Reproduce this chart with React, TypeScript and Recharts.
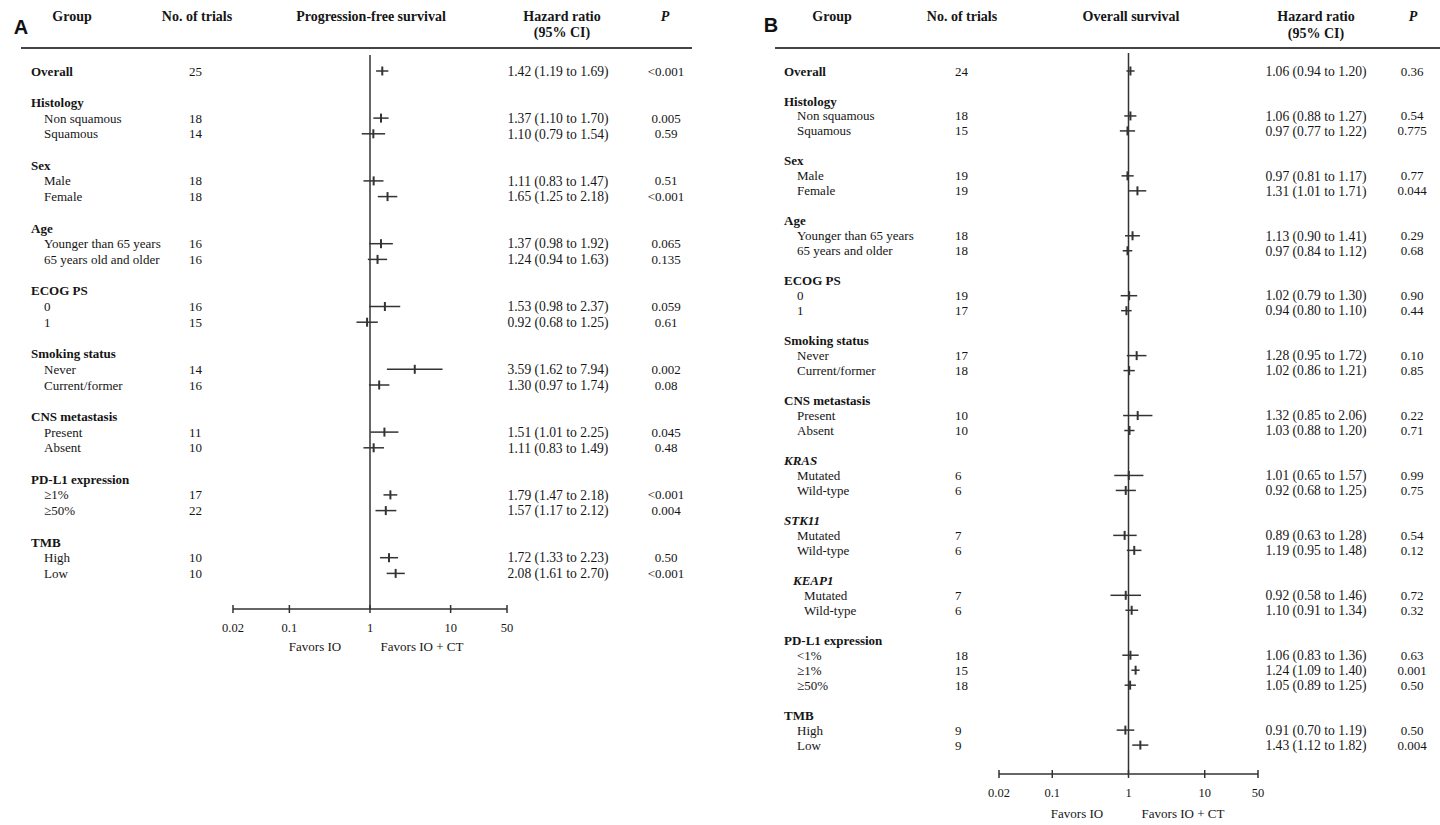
import React from 'react';
import { ScatterChart, Scatter, XAxis, YAxis, ReferenceLine, ErrorBar } from 'recharts';

// ---------- Panel A: Progression-free survival ----------
const pfsSubgroups = ['Overall', 'Non squamous', 'Squamous', 'Male', 'Female', 'Younger than 65 years', '65 years old and older', '0', '1', 'Never', 'Current/former', 'Present', 'Absent', '≥1%', '≥50%', 'High', 'Low'];
const pfsCategories = ['', 'Histology', 'Histology', 'Sex', 'Sex', 'Age', 'Age', 'ECOG PS', 'ECOG PS', 'Smoking status', 'Smoking status', 'CNS metastasis', 'CNS metastasis', 'PD-L1 expression', 'PD-L1 expression', 'TMB', 'TMB'];
const pfsTrials = [25, 18, 14, 18, 18, 16, 16, 16, 15, 14, 16, 11, 10, 17, 22, 10, 10];
const pfsHR = [1.42, 1.37, 1.10, 1.11, 1.65, 1.37, 1.24, 1.53, 0.92, 3.59, 1.30, 1.51, 1.11, 1.79, 1.57, 1.72, 2.08];
const pfsLower = [1.19, 1.10, 0.79, 0.83, 1.25, 0.98, 0.94, 0.98, 0.68, 1.62, 0.97, 1.01, 0.83, 1.47, 1.17, 1.33, 1.61];
const pfsUpper = [1.69, 1.70, 1.54, 1.47, 2.18, 1.92, 1.63, 2.37, 1.25, 7.94, 1.74, 2.25, 1.49, 2.18, 2.12, 2.23, 2.70];
const pfsP = ['<0.001', '0.005', '0.59', '0.51', '<0.001', '0.065', '0.135', '0.059', '0.61', '0.002', '0.08', '0.045', '0.48', '<0.001', '0.004', '0.50', '<0.001'];

// ---------- Panel B: Overall survival ----------
const osSubgroups = ['Overall', 'Non squamous', 'Squamous', 'Male', 'Female', 'Younger than 65 years', '65 years and older', '0', '1', 'Never', 'Current/former', 'Present', 'Absent', 'Mutated', 'Wild-type', 'Mutated', 'Wild-type', 'Mutated', 'Wild-type', '<1%', '≥1%', '≥50%', 'High', 'Low'];
const osCategories = ['', 'Histology', 'Histology', 'Sex', 'Sex', 'Age', 'Age', 'ECOG PS', 'ECOG PS', 'Smoking status', 'Smoking status', 'CNS metastasis', 'CNS metastasis', 'KRAS', 'KRAS', 'STK11', 'STK11', 'KEAP1', 'KEAP1', 'PD-L1 expression', 'PD-L1 expression', 'PD-L1 expression', 'TMB', 'TMB'];
const osTrials = [24, 18, 15, 19, 19, 18, 18, 19, 17, 17, 18, 10, 10, 6, 6, 7, 6, 7, 6, 18, 15, 18, 9, 9];
const osHR = [1.06, 1.06, 0.97, 0.97, 1.31, 1.13, 0.97, 1.02, 0.94, 1.28, 1.02, 1.32, 1.03, 1.01, 0.92, 0.89, 1.19, 0.92, 1.10, 1.06, 1.24, 1.05, 0.91, 1.43];
const osLower = [0.94, 0.88, 0.77, 0.81, 1.01, 0.90, 0.84, 0.79, 0.80, 0.95, 0.86, 0.85, 0.88, 0.65, 0.68, 0.63, 0.95, 0.58, 0.91, 0.83, 1.09, 0.89, 0.70, 1.12];
const osUpper = [1.20, 1.27, 1.22, 1.17, 1.71, 1.41, 1.12, 1.30, 1.10, 1.72, 1.21, 2.06, 1.20, 1.57, 1.25, 1.28, 1.48, 1.46, 1.34, 1.36, 1.40, 1.25, 1.19, 1.82];
const osP = ['0.36', '0.54', '0.775', '0.77', '0.044', '0.29', '0.68', '0.90', '0.44', '0.10', '0.85', '0.22', '0.71', '0.99', '0.75', '0.54', '0.12', '0.72', '0.32', '0.63', '0.001', '0.50', '0.50', '0.004'];

// ---------- Axis ----------
const axisTicks = [0.02, 0.1, 1, 10, 50];
const axisTickLabels = ['0.02', '0.1', '1', '10', '50'];
const italicCategories = ['KRAS', 'STK11', 'KEAP1'];

const FONT = "'Liberation Serif', 'Times New Roman', serif";
const INK = '#151515';
const LINE = '#333';
const PAGE_H = 825;

type Row = {
  idx: number;
  kind: 'header' | 'item' | 'overall';
  label: string;
  category: string;
  trials?: number;
  hr?: number;
  lo?: number;
  hi?: number;
  p?: string;
  err?: [number, number];
};

function buildRows(subs: string[], cats: string[], trials: number[], hr: number[], lo: number[], hi: number[], p: string[]): Row[] {
  const rows: Row[] = [];
  let idx = 0;
  let prev: string | null = null;
  subs.forEach((s, i) => {
    const cat = cats[i];
    if (cat !== prev) {
      if (prev !== null) idx += 1;
      if (cat) {
        rows.push({ idx, kind: 'header', label: cat, category: cat });
        idx += 1;
      }
      prev = cat;
    }
    rows.push({
      idx,
      kind: cat ? 'item' : 'overall',
      label: s,
      category: cat,
      trials: trials[i],
      hr: hr[i],
      lo: lo[i],
      hi: hi[i],
      p: p[i],
      err: [hr[i] - lo[i], hi[i] - hr[i]],
    });
    idx += 1;
  });
  return rows;
}

const pfsRows = buildRows(pfsSubgroups, pfsCategories, pfsTrials, pfsHR, pfsLower, pfsUpper, pfsP);
const osRows = buildRows(osSubgroups, osCategories, osTrials, osHR, osLower, osUpper, osP);

type Layout = {
  left: number;
  width: number;
  plotLeft: number;
  plotRight: number;
  plotTop: number;
  plotBottom: number;
  row0: number;
  rowStep: number;
  cols: { header: number; item: number; trials: number; hr: number; p: number };
};

const layoutA: Layout = {
  left: 0, width: 720, plotLeft: 233, plotRight: 507, plotTop: 55, plotBottom: 609,
  row0: 71, rowStep: 15.7,
  cols: { header: 31, item: 44, trials: 189, hr: 558, p: 666 },
};
const layoutB: Layout = {
  left: 720, width: 720, plotLeft: 999, plotRight: 1258, plotTop: 53, plotBottom: 774,
  row0: 71, rowStep: 14.98,
  cols: { header: 784, item: 797, trials: 955, hr: 1316, p: 1412 },
};

const txt = { fontFamily: FONT, fontSize: 13, fill: INK } as const;

function Marker(props: any) {
  const { cx, cy } = props;
  if (cx == null || cy == null) return <g />;
  return <line x1={cx} x2={cx} y1={cy - 4.5} y2={cy + 4.5} stroke={LINE} strokeWidth={2} />;
}

function XTick(props: any) {
  const { x, y, payload } = props;
  const i = axisTicks.indexOf(payload.value);
  return (
    <g>
      <line x1={x} x2={x} y1={y - 4} y2={y + 4} stroke={LINE} strokeWidth={1.5} />
      <text x={x} y={y + 19} dy="0.35em" textAnchor="middle" {...txt} fontSize={12.5}>
        {i >= 0 ? axisTickLabels[i] : String(payload.value)}
      </text>
    </g>
  );
}

function ForestPanel({ rows, layout }: { rows: Row[]; layout: Layout }) {
  const { left, width, plotLeft, plotRight, plotTop, plotBottom, row0, rowStep, cols } = layout;
  const yMin = (plotTop - row0) / rowStep;
  const yMax = (plotBottom - row0) / rowStep;
  const xAxisH = 60;
  const points = rows.filter((r) => r.hr !== undefined);
  const byIdx = new Map<number, Row>();
  rows.forEach((r) => byIdx.set(r.idx, r));

  const RowTick = (props: any) => {
    const { y, payload } = props;
    const row = byIdx.get(payload.value);
    if (!row) return <g />;
    const isHeader = row.kind === 'header';
    const italic = isHeader && italicCategories.includes(row.category);
    const shift = row.category === 'KEAP1' ? (isHeader ? 9 : 7) : 0;
    const labelX = (row.kind === 'item' ? cols.item : cols.header) + shift - left;
    return (
      <g>
        <text x={labelX} y={y} dy="0.35em" textAnchor="start" {...txt}
          fontWeight={row.kind === 'item' ? 'normal' : 'bold'} fontStyle={italic ? 'italic' : 'normal'}>
          {row.label}
        </text>
        {row.trials !== undefined && (
          <text x={cols.trials - left} y={y} dy="0.35em" textAnchor="start" {...txt}>{row.trials}</text>
        )}
        {row.hr !== undefined && (
          <text x={cols.hr - left} y={y} dy="0.35em" textAnchor="middle" {...txt} fontSize={13.6}>
            {`${row.hr.toFixed(2)} (${row.lo!.toFixed(2)} to ${row.hi!.toFixed(2)})`}
          </text>
        )}
        {row.p !== undefined && (
          <text x={cols.p - left} y={y} dy="0.35em" textAnchor="middle" {...txt}>{row.p}</text>
        )}
      </g>
    );
  };

  return (
    <div style={{ position: 'absolute', left, top: 0, width, height: PAGE_H }}>
      <ScatterChart
        width={width}
        height={PAGE_H}
        margin={{ top: plotTop, right: left + width - plotRight, bottom: PAGE_H - plotBottom - xAxisH, left: 0 }}
      >
        <XAxis
          type="number"
          dataKey="hr"
          scale="log"
          domain={[0.02, 50]}
          ticks={axisTicks}
          allowDataOverflow
          interval={0}
          height={xAxisH}
          tickSize={0}
          tickMargin={0}
          tickLine={false}
          axisLine={{ stroke: LINE, strokeWidth: 1.5 }}
          tick={(p: any) => <XTick {...p} />}
        />
        <YAxis
          type="number"
          dataKey="idx"
          domain={[yMin, yMax]}
          reversed
          allowDataOverflow
          ticks={rows.map((r) => r.idx)}
          interval={0}
          width={plotLeft - left}
          axisLine={false}
          tickLine={false}
          tickSize={0}
          tick={RowTick}
        />
        <ReferenceLine x={1} stroke={LINE} strokeWidth={1.5} />
        <Scatter data={points} isAnimationActive={false} shape={(p: any) => <Marker {...p} />}>
          <ErrorBar dataKey="err" direction="x" width={0} stroke={LINE} strokeWidth={1.5} isAnimationActive={false} />
        </Scatter>
      </ScatterChart>
    </div>
  );
}

function Headers() {
  const hb = { fontFamily: FONT, fontSize: 14, fill: INK, fontWeight: 'bold' } as const;
  const fav = { fontFamily: FONT, fontSize: 13, fill: INK } as const;
  return (
    <svg width={1440} height={PAGE_H} style={{ position: 'absolute', left: 0, top: 0, pointerEvents: 'none' }}>
      <text x={21} y={27} dy="0.35em" textAnchor="middle" fontFamily="'Liberation Sans', Arial, sans-serif" fontWeight="bold" fontSize={20} fill="#111">A</text>
      <text x={771} y={25} dy="0.35em" textAnchor="middle" fontFamily="'Liberation Sans', Arial, sans-serif" fontWeight="bold" fontSize={20} fill="#111">B</text>

      <text x={72} y={16} dy="0.35em" textAnchor="middle" {...hb}>Group</text>
      <text x={197} y={16} dy="0.35em" textAnchor="middle" {...hb}>No. of trials</text>
      <text x={371} y={16} dy="0.35em" textAnchor="middle" {...hb}>Progression-free survival</text>
      <text x={562} y={16} dy="0.35em" textAnchor="middle" {...hb}>Hazard ratio</text>
      <text x={562} y={32.5} dy="0.35em" textAnchor="middle" {...hb}>(95% CI)</text>
      <text x={665} y={16} dy="0.35em" textAnchor="middle" {...hb} fontStyle="italic">P</text>
      <line x1={21} x2={692} y1={48} y2={48} stroke="#444" strokeWidth={2} />

      <text x={832} y={16} dy="0.35em" textAnchor="middle" {...hb}>Group</text>
      <text x={962} y={16} dy="0.35em" textAnchor="middle" {...hb}>No. of trials</text>
      <text x={1131} y={16} dy="0.35em" textAnchor="middle" {...hb}>Overall survival</text>
      <text x={1316} y={16} dy="0.35em" textAnchor="middle" {...hb}>Hazard ratio</text>
      <text x={1316} y={33} dy="0.35em" textAnchor="middle" {...hb}>(95% CI)</text>
      <text x={1413} y={16} dy="0.35em" textAnchor="middle" {...hb} fontStyle="italic">P</text>
      <line x1={775} x2={1440} y1={48} y2={48} stroke="#444" strokeWidth={2} />

      <text x={315} y={646} dy="0.35em" textAnchor="middle" {...fav}>Favors IO</text>
      <text x={422} y={646} dy="0.35em" textAnchor="middle" {...fav}>Favors IO + CT</text>
      <text x={1077} y={813} dy="0.35em" textAnchor="middle" {...fav}>Favors IO</text>
      <text x={1183} y={813} dy="0.35em" textAnchor="middle" {...fav}>Favors IO + CT</text>
    </svg>
  );
}

export default function App() {
  return (
    <div style={{ position: 'absolute', left: 0, top: 0, width: 1440, height: PAGE_H, background: '#fff' }}>
      <ForestPanel rows={pfsRows} layout={layoutA} />
      <ForestPanel rows={osRows} layout={layoutB} />
      <Headers />
    </div>
  );
}
